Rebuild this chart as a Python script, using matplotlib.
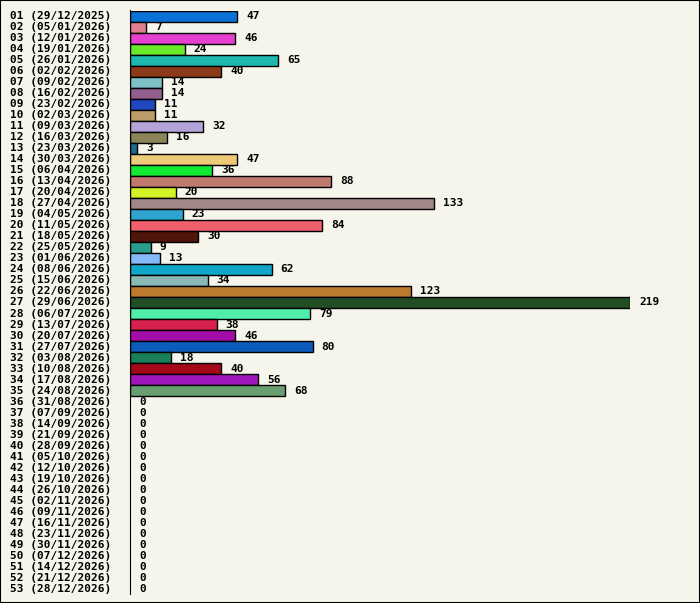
import matplotlib
matplotlib.use("Agg")
import matplotlib.pyplot as plt
from matplotlib.patches import Rectangle
import datetime as dt

# weekly counts, week 01 starts 29/12/2025
values = [47, 7, 46, 24, 65, 40, 14, 14, 11, 11, 32, 16, 3, 47, 36, 88, 20, 133,
          23, 84, 30, 9, 13, 62, 34, 123, 219, 79, 38, 46, 80, 18, 40, 56, 68] + [0] * 18
start = dt.date(2025, 12, 29)
labels = ["%02d (%s)" % (i + 1, (start + dt.timedelta(weeks=i)).strftime("%d/%m/%Y"))
          for i in range(53)]
colors = ["#0a72d6", "#e07f90", "#e640d0", "#6ae82a", "#1fb8b0", "#8b3a1a", "#7fbfc6",
          "#935e8e", "#2046c0", "#bc9c6a", "#b3a3d8", "#8a8458", "#1e6a8e", "#ecca78",
          "#12ea32", "#c07a6e", "#d4f228", "#a08888", "#30a4d0", "#f0606c", "#52150c",
          "#2a9e8e", "#84baf8", "#12a6c8", "#8ab8b4", "#bc7a2e", "#224e26", "#50eeaa",
          "#d8204e", "#a40ca8", "#0c5cbc", "#1a805a", "#a20818", "#a018bc", "#689e70"] + ["#000000"] * 18

bg = "#f5f5eb"
W, H = 700, 603
fig = plt.figure(figsize=(W / 100, H / 100), dpi=100, facecolor=bg)
fig.patches.append(Rectangle((0, 0), 1, 1, transform=fig.transFigure, fill=False,
                             edgecolor="black", linewidth=1.5))

ax = fig.add_axes([130 / W, 1 - 594.5 / H, 500 / W, 584 / H])
ax.set_facecolor(bg)
ax.set_xlim(0, 219)
ax.set_ylim(52.5, -0.5)
for s in ["top", "right", "bottom"]:
    ax.spines[s].set_visible(False)
ax.set_xticks([])
ax.set_yticks([])

font = dict(family="DejaVu Sans Mono", weight="bold", size=8.0)
for i, v in enumerate(values):
    if v > 0:
        ax.barh(i, v, height=1.0, color=colors[i], edgecolor="black", linewidth=1)
    ax.annotate(str(v), (v, i), xytext=(6.5, 0), textcoords="offset points",
                va="center", ha="left", **font)
    ax.annotate(labels[i], (0, i), xycoords=("figure fraction", "data"),
                xytext=(10 * 0.72, 0), textcoords="offset points",
                va="center", ha="left", **font)

fig.savefig("out.png", dpi=100, facecolor=bg)
